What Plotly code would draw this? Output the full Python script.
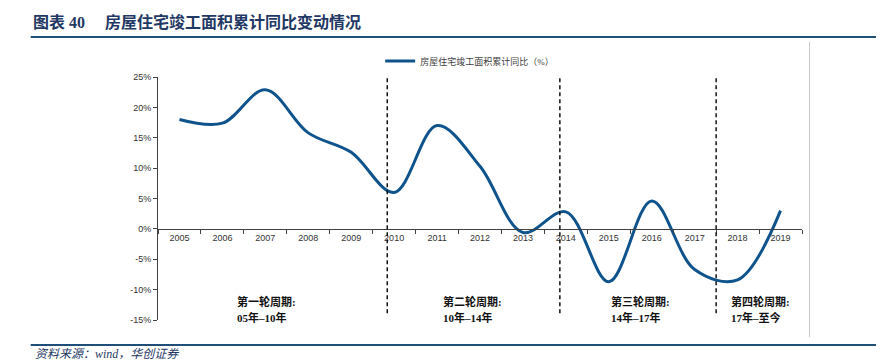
import plotly.graph_objects as go

# ---- data ----
years = ["2005", "2006", "2007", "2008", "2009", "2010", "2011", "2012",
         "2013", "2014", "2015", "2016", "2017", "2018", "2019"]
completion_yoy = [18.0, 17.4, 22.9, 15.8, 12.6, 6.0, 17.0, 10.3,
                  -0.6, 2.8, -8.7, 4.6, -6.7, -8.4, 3.0]
series_name = "房屋住宅竣工面积累计同比（%）"
y_ticks = [-15, -10, -5, 0, 5, 10, 15, 20, 25]
y_tick_labels = ["-15%", "-10%", "-5%", "0%", "5%", "10%", "15%", "20%", "25%"]
cycle_titles = ["第一轮周期:", "第二轮周期:", "第三轮周期:", "第四轮周期:"]
cycle_spans = ["05年–10年", "10年–14年", "14年–17年", "17年–至今"]
cycle_bounds = [4.84, 8.86, 12.5]   # boundary positions between cycles (category index)
cycle_label_x = [1.30, 6.09, 10.0, 12.79]

title_text = "图表\u00a040\u00a0\u00a0\u00a0\u00a0\u00a0房屋住宅竣工面积累计同比变动情况"
source_text = "资料来源：wind，华创证券"

# ---- layout geometry (viewport pixels; page body adds an 8px offset) ----
OFF = 8
W, H = 884 - OFF, 362 - OFF
L, R, T, B = 157.5, 802.5, 77, 320          # plot area in viewport pixels
def px_x(p):
    return (p - L) / (R - L)
def px_y(p):
    return (B - p) / (B - T)

serif = "Liberation Serif, Noto Sans CJK SC"
sans = "Liberation Sans, Arial, Noto Sans CJK SC"
dark_blue = "#1F3864"

fig = go.Figure()
fig.add_trace(go.Scatter(
    x=years, y=completion_yoy, mode="lines", name=series_name,
    line=dict(color="#0E538C", width=3, shape="spline", smoothing=1.0),
    hoverinfo="x+y",
))

shapes = []
for xb in cycle_bounds:
    shapes.append(dict(type="line", xref="x", yref="y", x0=xb, x1=xb, y0=24.8, y1=-14.0,
                       line=dict(color="#111111", width=1.5, dash="4px,3px")))
# header rule
shapes.append(dict(type="line", xref="paper", yref="paper", x0=px_x(30), x1=px_x(884),
                   y0=px_y(37), y1=px_y(37), line=dict(color="#1F4E79", width=2)))
# footer rule
shapes.append(dict(type="line", xref="paper", yref="paper", x0=px_x(30), x1=px_x(882),
                   y0=px_y(345), y1=px_y(345), line=dict(color="#1F4E79", width=2)))
# light right frame line
shapes.append(dict(type="line", xref="paper", yref="paper", x0=px_x(810), x1=px_x(810),
                   y0=px_y(42), y1=px_y(337), line=dict(color="#C8C8C8", width=1)))

annotations = []
for i in range(len(cycle_titles)):
    annotations.append(dict(x=cycle_label_x[i], y=-12.0, xref="x", yref="y",
                            text="<b>" + cycle_titles[i] + "</b>", showarrow=False,
                            xanchor="left", yanchor="middle",
                            font=dict(family=serif, size=11, color="#111111")))
    annotations.append(dict(x=cycle_label_x[i], y=-14.6, xref="x", yref="y",
                            text="<b>" + cycle_spans[i] + "</b>", showarrow=False,
                            xanchor="left", yanchor="middle",
                            font=dict(family=serif, size=11, color="#111111")))
annotations.append(dict(x=px_x(32), y=px_y(353.5), xref="paper", yref="paper",
                        text="<i>" + source_text + "</i>", showarrow=False,
                        xanchor="left", yanchor="middle",
                        font=dict(family=serif, size=12, color=dark_blue)))

fig.update_layout(
    width=W, height=H,
    margin=dict(l=L - OFF, r=884 - R, t=T - OFF, b=362 - B, pad=0, autoexpand=False),
    paper_bgcolor="white", plot_bgcolor="white",
    title=dict(text="<b>" + title_text + "</b>", x=(33 - OFF) / W, y=1 - (22 - OFF) / H,
               xanchor="left", yanchor="middle", xref="container", yref="container",
               font=dict(family=serif, size=16, color=dark_blue)),
    showlegend=True,
    legend=dict(orientation="h", x=px_x(380), y=px_y(61), xanchor="left", yanchor="middle",
                font=dict(family=serif, size=9, color="#404040"),
                bgcolor="rgba(0,0,0,0)", itemwidth=30),
    xaxis=dict(type="category", range=[-0.5, 14.5], tickson="boundaries",
               ticks="outside", ticklen=4, tickcolor="#404040", tickwidth=1,
               showline=True, linecolor="#404040", linewidth=1,
               anchor="free", position=15 / 40, showgrid=False, zeroline=False,
               tickfont=dict(family=sans, size=9, color="#333333")),
    yaxis=dict(range=[-15, 25], tickvals=y_ticks, ticktext=y_tick_labels,
               ticks="outside", ticklen=4, tickcolor="#404040", tickwidth=1,
               showline=True, linecolor="#404040", linewidth=1,
               showgrid=False, zeroline=False,
               tickfont=dict(family=sans, size=9, color="#333333")),
    shapes=shapes, annotations=annotations,
)

fig.write_html("out.html")
